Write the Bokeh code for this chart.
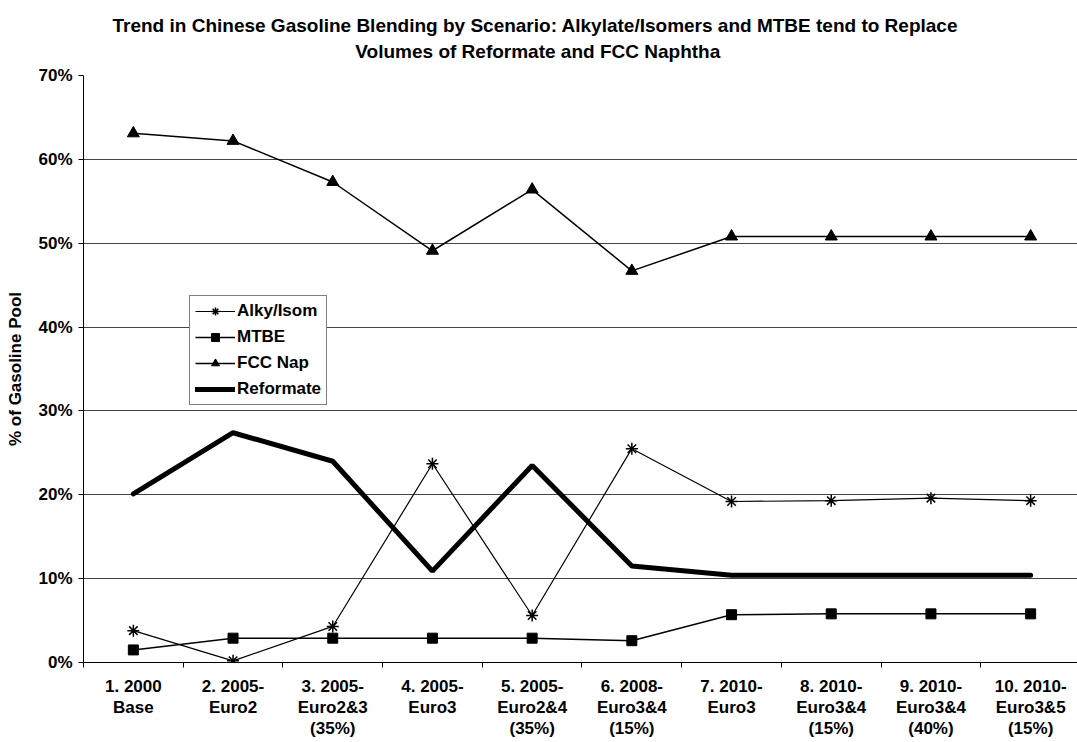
from bokeh.plotting import figure
from bokeh.models import Range1d, FixedTicker, PrintfTickFormatter, Legend, LegendItem
from bokeh.embed import file_html
from bokeh.resources import INLINE

categories = ["1. 2000\nBase", "2. 2005-\nEuro2", "3. 2005-\nEuro2&3\n(35%)", "4. 2005-\nEuro3",
              "5. 2005-\nEuro2&4\n(35%)", "6. 2008-\nEuro3&4\n(15%)", "7. 2010-\nEuro3",
              "8. 2010-\nEuro3&4\n(15%)", "9. 2010-\nEuro3&4\n(40%)", "10. 2010-\nEuro3&5\n(15%)"]
alky = [3.8, 0.2, 4.3, 23.7, 5.6, 25.5, 19.2, 19.3, 19.6, 19.3]
mtbe = [1.5, 2.9, 2.9, 2.9, 2.9, 2.6, 5.7, 5.8, 5.8, 5.8]
fcc = [63.1, 62.2, 57.3, 49.1, 56.4, 46.7, 50.8, 50.8, 50.8, 50.8]
reformate = [20.1, 27.4, 24.0, 10.9, 23.5, 11.5, 10.4, 10.4, 10.4, 10.4]
y_ticks = [0, 10, 20, 30, 40, 50, 60, 70]
title_lines = ["Trend in Chinese Gasoline Blending by Scenario: Alkylate/Isomers and MTBE tend to Replace",
               "Volumes of Reformate and FCC Naphtha"]
y_label = "% of Gasoline Pool"

FONT = "Liberation Sans"
xs = [i + 0.5 for i in range(len(categories))]

p = figure(width=1077, height=742, output_backend="svg", toolbar_location=None,
           x_range=Range1d(0, 9.97), y_range=Range1d(0, 70),
           min_border_left=83, min_border_right=0, min_border_top=75, min_border_bottom=80)
p.outline_line_color = None
p.background_fill_color = "white"

# two-line title; second line indented with no-break spaces so it sits centred
p.title.text = title_lines[0] + "\n" + "\u00a0" * 46 + title_lines[1]
p.title.align = "left"
p.title.vertical_align = "top"
p.title.offset = 29
p.title.text_font = FONT
p.title.text_font_style = "bold"
p.title.text_font_size = "19px"
p.title.text_color = "black"
p.title.text_line_height = 1.22
p.title.standoff = 23

# axes
xa = p.xaxis[0]
xa.ticker = FixedTicker(ticks=xs, minor_ticks=list(range(0, len(categories) + 1)))
xa.major_label_overrides = {x: c for x, c in zip(xs, categories)}
xa.major_tick_out = 0
xa.major_tick_in = 0
xa.minor_tick_out = 5
xa.minor_tick_in = 0
xa.minor_tick_line_color = "black"
xa.axis_line_color = "black"
xa.major_label_text_font = FONT
xa.major_label_text_font_style = "bold"
xa.major_label_text_font_size = "17px"
xa.major_label_text_line_height = 1.13
xa.major_label_standoff = 9
xa.major_label_text_color = "black"

ya = p.yaxis[0]
ya.ticker = FixedTicker(ticks=y_ticks)
ya.formatter = PrintfTickFormatter(format="%d%%")
ya.major_tick_out = 5
ya.major_tick_in = 0
ya.minor_tick_out = 0
ya.minor_tick_in = 0
ya.axis_line_color = "black"
ya.major_tick_line_color = "black"
ya.major_label_text_font = FONT
ya.major_label_text_font_style = "bold"
ya.major_label_text_font_size = "17px"
ya.major_label_text_color = "black"
ya.major_label_standoff = 6
ya.axis_label = y_label
ya.axis_label_text_font = FONT
ya.axis_label_text_font_style = "bold"
ya.axis_label_text_font_size = "17px"
ya.axis_label_text_color = "black"
ya.axis_label_standoff = 10

p.xgrid.grid_line_color = None
p.ygrid.grid_line_color = "#444444"
p.ygrid.grid_line_width = 1

# series
r_alky_l = p.line(xs, alky, line_color="black", line_width=1.2)
r_alky_m = p.scatter(xs, alky, marker="asterisk", size=12, line_color="black", line_width=1.5)
r_mtbe_l = p.line(xs, mtbe, line_color="black", line_width=1.5)
r_mtbe_m = p.scatter(xs, mtbe, marker="square", size=10, fill_color="black", line_color="black")
r_fcc_l = p.line(xs, fcc, line_color="black", line_width=1.5)
r_fcc_m = p.scatter(xs, fcc, marker="triangle", size=12, fill_color="black", line_color="black")
r_ref = p.line(xs, reformate, line_color="black", line_width=5, line_cap="round")

legend = Legend(items=[
    LegendItem(label="Alky/Isom", renderers=[r_alky_l, r_alky_m]),
    LegendItem(label="MTBE", renderers=[r_mtbe_l, r_mtbe_m]),
    LegendItem(label="FCC Nap", renderers=[r_fcc_l, r_fcc_m]),
    LegendItem(label="Reformate", renderers=[r_ref]),
], location=(106, 257))
legend.margin = 0
legend.padding = 5
legend.spacing = 6
legend.glyph_width = 40
legend.glyph_height = 20
legend.label_height = 20
legend.label_standoff = 2
legend.label_text_font = FONT
legend.label_text_font_style = "bold"
legend.label_text_font_size = "17px"
legend.label_text_color = "black"
legend.border_line_color = "black"
legend.border_line_width = 1
legend.background_fill_color = "white"
legend.background_fill_alpha = 1
p.add_layout(legend, "center")

open("out.html", "w").write(file_html(p, INLINE))
